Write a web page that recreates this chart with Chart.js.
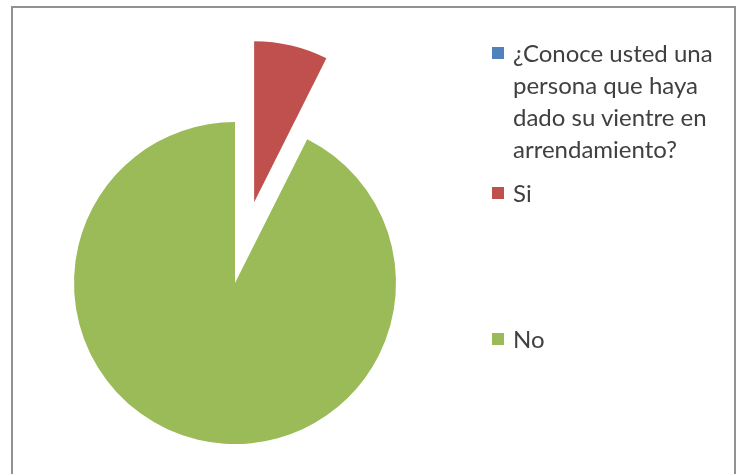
<!DOCTYPE html>
<html>
<head>
<meta charset="utf-8">
<script src="https://cdn.jsdelivr.net/npm/chart.js@4/dist/chart.umd.min.js"></script>
<style>
  html, body { margin: 0; padding: 0; background: #fff; width: 739px; height: 474px; overflow: hidden; }
  #frame { position: absolute; left: 11px; top: 6px; width: 725px; height: 480px; border: 2px solid #919191; box-sizing: border-box; }
  #wrap { position: absolute; left: 0; top: 0; width: 739px; height: 474px; }
  .leg { position: absolute; font-family: Lato, "Open Sans", sans-serif; font-size: 24px; line-height: 32px; color: #404040; white-space: nowrap; }
  .sw { position: absolute; width: 12px; height: 12px; }
</style>
</head>
<body>
<div id="frame"></div>
<div id="wrap"><canvas id="c" width="739" height="474"></canvas></div>
<div id="legend"></div>
<script>
const categories = ["¿Conoce usted una persona que haya dado su vientre en arrendamiento?", "Si", "No"];
const legendLines = [["¿Conoce usted una", "persona que haya", "dado su vientre en", "arrendamiento?"], ["Si"], ["No"]];
const values = [0, 2, 25];
const colors = ["#4F81BD", "#C0504D", "#9BBB59"];
const explode = [0, 83, 0]; // pixel distance each slice is pulled out

// Pull exploded slices out along their mid-angle without changing their radius or angle
const explodePlugin = {
  id: "explode",
  afterDatasetUpdate(chart, args) {
    const meta = args.meta;
    meta.data.forEach((arc, i) => {
      const d = explode[i] || 0;
      if (!d) return;
      const mid = (arc.startAngle + arc.endAngle) / 2;
      arc.x += Math.cos(mid) * d;
      arc.y += Math.sin(mid) * d;
    });
  }
};

new Chart(document.getElementById("c"), {
  type: "pie",
  data: {
    labels: categories,
    datasets: [{
      data: values,
      backgroundColor: colors,
      borderWidth: 0,
      clip: false
    }]
  },
  options: {
    responsive: false,
    animation: false,
    radius: 161,
    layout: { padding: { left: 40, right: 309, top: 100, bottom: 8 } },
    plugins: { legend: { display: false }, tooltip: { enabled: false } }
  },
  plugins: [explodePlugin]
});

// HTML legend built from the same arrays
const legTops = [37, 177, 323];
const legend = document.getElementById("legend");
legendLines.forEach((lines, i) => {
  const sw = document.createElement("div");
  sw.className = "sw";
  sw.style.left = "492px";
  sw.style.top = (legTops[i] + 10) + "px";
  sw.style.background = colors[i];
  legend.appendChild(sw);
  const t = document.createElement("div");
  t.className = "leg";
  t.style.left = "513px";
  t.style.top = legTops[i] + "px";
  t.innerHTML = lines.map(s => s.replace(/&/g, "&amp;").replace(/</g, "&lt;")).join("<br>");
  legend.appendChild(t);
});
</script>
</body>
</html>
